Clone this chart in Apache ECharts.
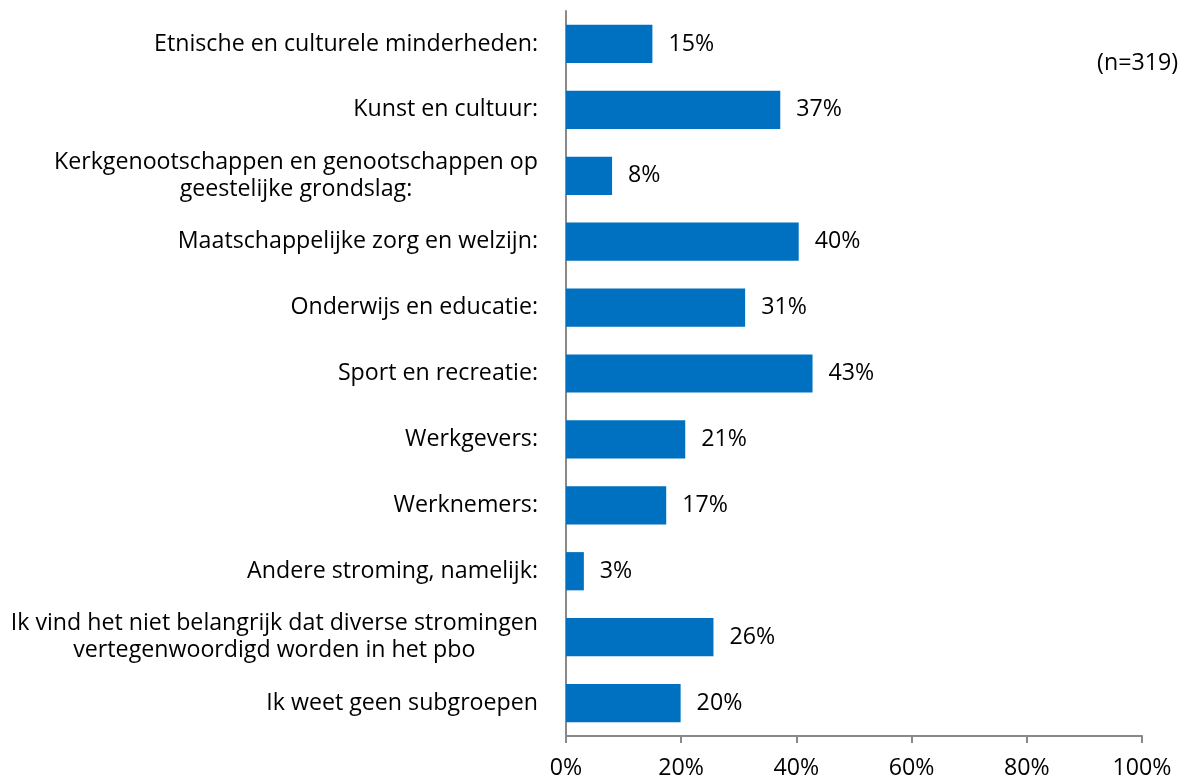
<!DOCTYPE html>
<html>
<head>
<meta charset="utf-8">
<script src="https://cdn.jsdelivr.net/npm/echarts@6/dist/echarts.min.js"></script>
<style>
html,body{margin:0;padding:0;background:#fff;}
#chart{width:1191px;height:782px;}
</style>
</head>
<body>
<div id="chart"></div>
<script>
const categories = [
  "Etnische en culturele minderheden:",
  "Kunst en cultuur:",
  "Kerkgenootschappen en genootschappen op\ngeestelijke grondslag:",
  "Maatschappelijke zorg en welzijn:",
  "Onderwijs en educatie:",
  "Sport en recreatie:",
  "Werkgevers:",
  "Werknemers:",
  "Andere stroming, namelijk:",
  "Ik vind het niet belangrijk dat diverse stromingen\nvertegenwoordigd worden in het pbo",
  "Ik weet geen subgroepen"
];
const values = [15.0, 37.2, 8.0, 40.4, 31.1, 42.8, 20.7, 17.4, 3.1, 25.6, 19.9];
const xTicks = [0, 20, 40, 60, 80, 100];
const note = "(n=319)";

const FONT = 'Open Sans';
const FS = 23.2;
const chart = echarts.init(document.getElementById('chart'), null, {renderer: 'canvas'});
chart.setOption({
  animation: false,
  backgroundColor: '#ffffff',
  title: {
    text: note,
    right: 8,
    top: 47,
    textStyle: {fontFamily: FONT, fontSize: FS, fontWeight: 'normal', color: '#000'}
  },
  grid: {left: 566, right: 49, top: 11, bottom: 46, containLabel: false},
  xAxis: {
    type: 'value',
    min: 0, max: 100, interval: 20,
    axisLine: {show: true, lineStyle: {color: '#898989', width: 2}},
    axisTick: {show: true, length: 7, lineStyle: {color: '#898989', width: 2}},
    splitLine: {show: false},
    axisLabel: {
      margin: 21,
      fontFamily: FONT, fontSize: FS, color: '#000',
      formatter: v => xTicks.includes(v) ? v + '%' : ''
    }
  },
  yAxis: {
    type: 'category',
    inverse: true,
    data: categories,
    axisLine: {show: true, lineStyle: {color: '#898989', width: 2}},
    axisTick: {show: false},
    axisLabel: {
      margin: 28,
      fontFamily: FONT, fontSize: FS, color: '#000',
      formatter: v => '{c|' + v + '}',
      rich: {c: {fontFamily: FONT, fontSize: FS, color: '#000', align: 'center', lineHeight: 27}}
    }
  },
  series: [{
    type: 'bar',
    data: values,
    barCategoryGap: '42%',
    itemStyle: {color: '#0070C0'},
    label: {
      show: true,
      position: 'right',
      distance: 16,
      fontFamily: FONT, fontSize: FS, color: '#000',
      formatter: p => Math.round(p.value) + '%'
    }
  }]
});
</script>
</body>
</html>
